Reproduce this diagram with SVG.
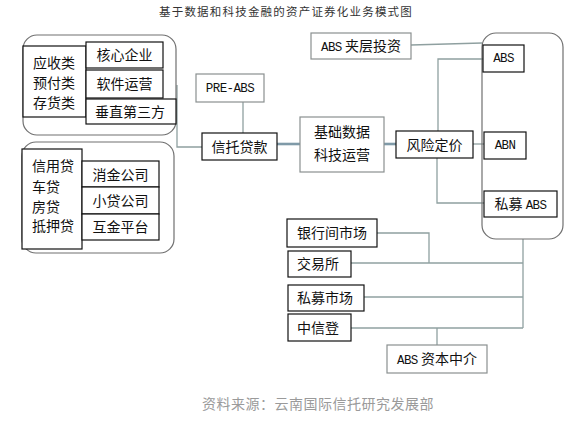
<svg xmlns="http://www.w3.org/2000/svg" width="573" height="421" viewBox="0 0 573 421">
<style>
.bg{fill:#fff}
.k{fill:#fff;stroke:#111;stroke-width:1.2}
.g{fill:#fff;stroke:#8a9090;stroke-width:1.2}
.r{fill:none;stroke:#707070;stroke-width:1.2}
.c{fill:none;stroke:#8fa0a0;stroke-width:1.3}
.t{font-family:"Noto Sans CJK SC","Noto Sans",sans-serif;font-size:14px;fill:#111}
.m{font-family:"Liberation Mono","DejaVu Sans Mono",monospace;font-size:12.5px;letter-spacing:-0.6px;fill:#111}
.mid{text-anchor:middle}
</style>
<rect class="bg" x="0" y="0" width="573" height="421"/>
<text x="286" y="16" text-anchor="middle" style="font-family:'Noto Sans CJK SC',sans-serif;font-size:11.5px;letter-spacing:1.2px;fill:#333">基于数据和科技金融的资产证券化业务模式图</text>

<g id="connectors">
<polyline class="c" points="177,85 177,147 202,147"/>
<line class="c" x1="243" y1="102" x2="243" y2="133"/>
<line x1="277" y1="144" x2="300" y2="144" stroke="#7f9aa8" stroke-width="2.6"/>
<line x1="384" y1="144" x2="396" y2="144" stroke="#7f9aa8" stroke-width="2.6"/>
<polyline class="c" points="438,131 438,59 483,59"/>
<line class="c" x1="473" y1="144" x2="484" y2="144"/>
<polyline class="c" points="437,158 437,203 484,203"/>
<line class="c" x1="411" y1="45" x2="482" y2="43"/>
<line class="c" x1="523" y1="239" x2="523" y2="328"/>
<polyline class="c" points="377,233 429,233 429,263"/>
<line class="c" x1="351" y1="263" x2="523" y2="263"/>
<line class="c" x1="364" y1="297" x2="523" y2="297"/>
<line class="c" x1="351" y1="328" x2="523" y2="328"/>
<line class="c" x1="437" y1="328" x2="437" y2="345"/>
</g>

<g id="upper-group">
<rect class="r" x="23" y="35" width="153" height="100" rx="14"/>
<rect class="k" x="23" y="46" width="63" height="71"/>
<text class="t" x="33" y="68">应收类</text>
<text class="t" x="33" y="88">预付类</text>
<text class="t" x="33" y="108">存货类</text>
</g>
<g id="hexinqiye"><rect class="k" x="86" y="42" width="77" height="26"/><text class="t mid" x="124.5" y="60">核心企业</text></g>
<g id="ruanjianyunying"><rect class="k" x="86" y="70" width="77" height="28"/><text class="t mid" x="124.5" y="89">软件运营</text></g>
<g id="chuizhi"><rect class="k" x="86" y="99" width="90" height="25"/><text class="t mid" x="130" y="117">垂直第三方</text></g>

<g id="lower-group">
<rect class="r" x="22" y="142" width="152" height="111" rx="14"/>
<rect class="k" x="22" y="149" width="60" height="100"/>
<text class="t" x="32" y="171">信用贷</text>
<text class="t" x="32" y="192">车贷</text>
<text class="t" x="32" y="212">房贷</text>
<text class="t" x="32" y="231">抵押贷</text>
</g>
<g id="xiaojin"><rect class="k" x="82" y="161" width="77" height="26"/><text class="t mid" x="120.5" y="180">消金公司</text></g>
<g id="xiaodai"><rect class="k" x="82" y="187" width="77" height="27"/><text class="t mid" x="120.5" y="206">小贷公司</text></g>
<g id="hujin"><rect class="k" x="82" y="214" width="77" height="26"/><text class="t mid" x="120.5" y="232">互金平台</text></g>

<g id="pre-abs"><rect class="g" x="196" y="74" width="68" height="28"/><text class="m mid" x="230" y="92">PRE-ABS</text></g>
<g id="xintuodaikuan"><rect class="k" x="202" y="133" width="75" height="27"/><text class="t mid" x="239.5" y="152">信托贷款</text></g>
<g id="jichushuju"><rect class="g" x="300" y="117" width="84" height="55"/><text class="t mid" x="342" y="137">基础数据</text><text class="t mid" x="342" y="160">科技运营</text></g>
<g id="fengxiandingjia"><rect class="k" x="396" y="131" width="77" height="27"/><text class="t mid" x="434.5" y="150">风险定价</text></g>
<g id="abs-jiaceng"><rect class="g" x="311" y="33" width="100" height="26"/><text class="t mid" x="361" y="51"><tspan class="m">ABS</tspan> 夹层投资</text></g>

<g id="products">
<rect class="r" x="482" y="33" width="81" height="206" rx="14"/>
</g>
<g id="abs"><rect class="k" x="483" y="45" width="41" height="27"/><text class="m mid" x="503.5" y="62">ABS</text></g>
<g id="abn"><rect class="k" x="484" y="132" width="42" height="27"/><text class="m mid" x="505" y="149">ABN</text></g>
<g id="simu-abs"><rect class="k" x="484" y="191" width="73" height="26"/><text class="t mid" x="520.5" y="209">私募 <tspan class="m">ABS</tspan></text></g>

<g id="yinhangjian"><rect class="k" x="287" y="219" width="90" height="28"/><text class="t" x="297" y="238">银行间市场</text></g>
<g id="jiaoyisuo"><rect class="k" x="288" y="251" width="63" height="26"/><text class="t" x="297" y="269">交易所</text></g>
<g id="simushichang"><rect class="k" x="288" y="285" width="76" height="26"/><text class="t" x="297" y="303">私募市场</text></g>
<g id="zhongxindeng"><rect class="k" x="288" y="314" width="63" height="27"/><text class="t" x="297" y="333">中信登</text></g>
<g id="abs-zibenzhongjie"><rect class="g" x="387" y="345" width="100" height="28"/><text class="t mid" x="437" y="364"><tspan class="m">ABS</tspan> 资本中介</text></g>

<text x="318" y="409" text-anchor="middle" style="font-family:'Noto Sans CJK SC',sans-serif;font-size:14px;letter-spacing:0.5px;fill:#9a9a9a">资料来源：云南国际信托研究发展部</text>
</svg>
